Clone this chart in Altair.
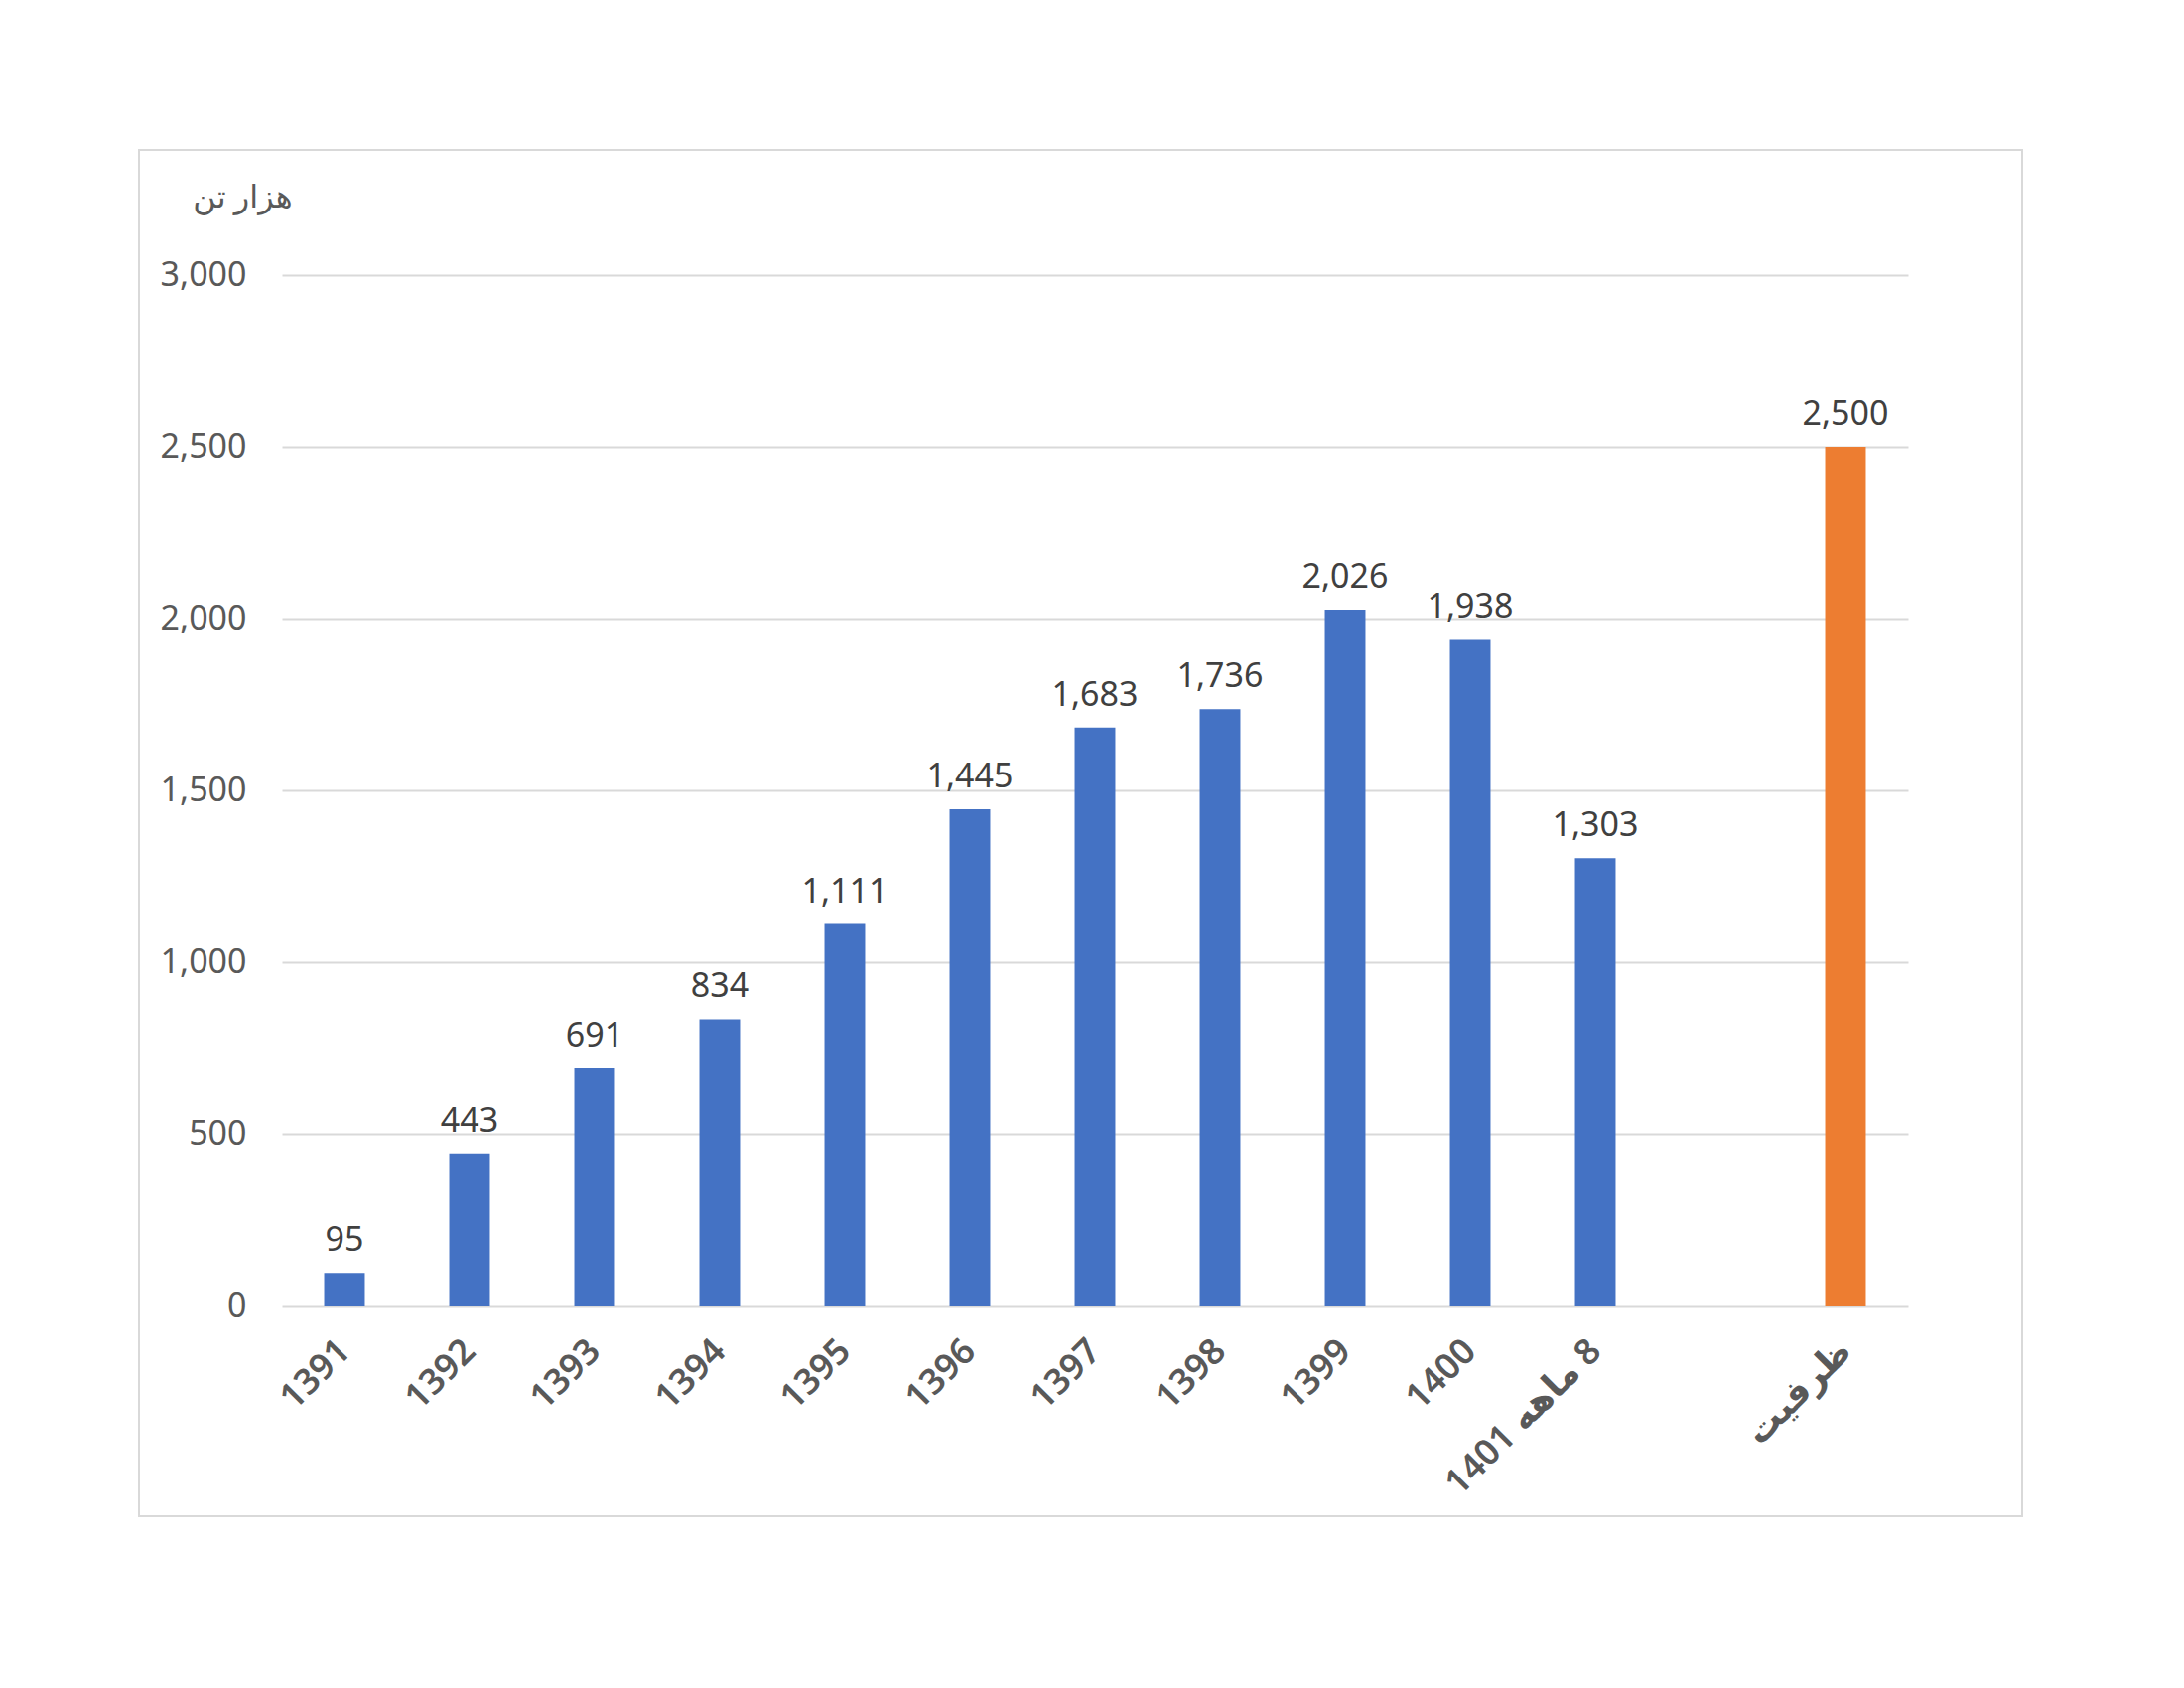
import altair as alt
import pandas as pd

# ---- data ----
categories = ["1391", "1392", "1393", "1394", "1395", "1396", "1397", "1398",
              "1399", "1400", "1401 ماهه \u200e8", " ", "ظرفیت"]
bar_categories = ["1391", "1392", "1393", "1394", "1395", "1396", "1397", "1398",
                  "1399", "1400", "1401 ماهه \u200e8", "ظرفیت"]
values = [95, 443, 691, 834, 1111, 1445, 1683, 1736, 2026, 1938, 1303, 2500]
groups = ["تولید"] * 11 + ["ظرفیت"]
group_domain = ["تولید", "ظرفیت"]
group_colors = ["#4472C4", "#ED7D31"]
y_ticks = [0, 500, 1000, 1500, 2000, 2500, 3000]
y_title = "هزار تن"

df = pd.DataFrame({"category": bar_categories, "value": values, "group": groups})

W, H = 1638, 1038
FONT = "Noto Sans, DejaVu Sans, sans-serif"
GRID = "#d9d9d9"

x_enc = alt.X(
    "category:N",
    sort=categories,
    scale=alt.Scale(domain=categories, paddingInner=0.675, paddingOuter=0.3375),
    axis=alt.Axis(
        title=None, domain=False, ticks=False, labelAngle=-45,
        labelAlign="right", labelBaseline="middle", labelPadding=40,
        labelFontSize=36, labelFont=FONT, labelColor="#595959",
        labelFontWeight=600, labelLimit=600,
    ),
)
y_enc = alt.Y(
    "value:Q",
    scale=alt.Scale(domain=[0, 3000], nice=False),
    axis=alt.Axis(
        values=y_ticks, format=",.0f", grid=True, gridColor=GRID, gridWidth=2,
        domain=False, ticks=False, labelPadding=36, labelFontSize=34,
        labelFont=FONT, labelColor="#595959",
        title=y_title, titleAngle=0, titleX=-40, titleY=-69,
        titleAlign="center", titleBaseline="alphabetic", titleFont=FONT,
        titleFontSize=32, titleFontWeight="normal", titleColor="#595959",
    ),
)

base = alt.Chart(df).encode(x=x_enc, y=y_enc)

bars = base.mark_bar().encode(
    color=alt.Color("group:N", scale=alt.Scale(domain=group_domain, range=group_colors), legend=None),
)

labels = base.mark_text(
    baseline="alphabetic", dy=-22, fontSize=34, font=FONT, color="#404040"
).encode(
    text=alt.Text("value:Q", format=",.0f"),
)

frame = alt.Chart(pd.DataFrame({"f": [0]})).mark_rect(
    fillOpacity=0, stroke=GRID, strokeWidth=2
).encode(
    x=alt.value(-144), x2=alt.value(1753), y=alt.value(-126), y2=alt.value(1250)
)

chart = alt.layer(frame, bars, labels).properties(
    width=W, height=H,
    background="white",
    autosize=alt.AutoSizeParams(type="none"),
    padding={"left": 276, "top": 269, "right": 260, "bottom": 360},
).configure_view(strokeWidth=0)

chart.save("out.html", embed_options={"renderer": "svg", "actions": False})
